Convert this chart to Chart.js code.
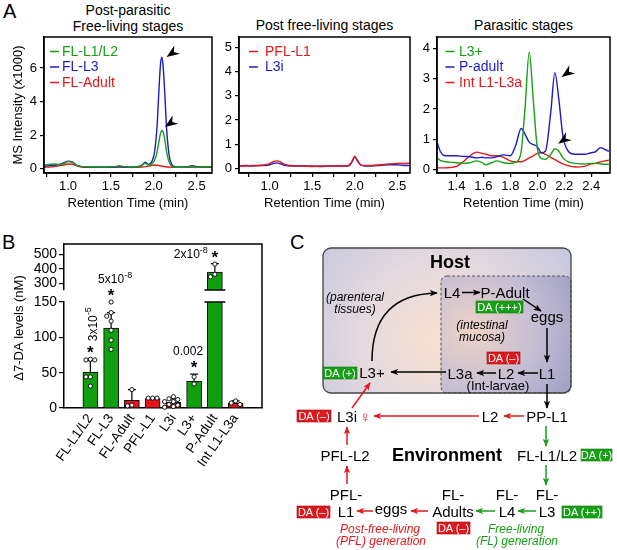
<!DOCTYPE html>
<html>
<head>
<meta charset="utf-8">
<title>Δ7-DA across life stages</title>
<script src="https://cdn.jsdelivr.net/npm/chart.js@4.4.1/dist/chart.umd.min.js"></script>
<style>
  body { margin: 0; background: #fff; }
  #fig { position: relative; width: 617px; height: 550px; overflow: hidden; font-family: 'Liberation Sans', Arial, sans-serif; color: #000; }
  #fig canvas { position: absolute; }
  .panel { position: absolute; font-size: 20px; line-height: 20px; }
  .title { position: absolute; font-size: 14px; line-height: 16px; text-align: center; }
  #diagram { position: absolute; left: 0; top: 0; }
</style>
</head>
<body>
<div id="fig">
  <div class="panel" style="left:3px; top:1px">A</div>
  <div class="panel" style="left:2px; top:232px">B</div>
  <div class="panel" style="left:290px; top:232px">C</div>
  <div class="title" style="left:44px; top:2px; width:168px">Post-parasitic<br>Free-living stages</div>
  <div class="title" style="left:239px; top:17px; width:171px">Post free-living stages</div>
  <div class="title" style="left:437px; top:17px; width:173px">Parasitic stages</div>

  <canvas id="msFree" width="217" height="215" style="left:0; top:0"></canvas>
  <canvas id="msPost" width="200" height="215" style="left:215px; top:0"></canvas>
  <canvas id="msPara" width="202" height="215" style="left:415px; top:0"></canvas>
  <canvas id="levelsLow" width="270" height="232" style="left:0; top:238px"></canvas>
  <canvas id="levelsHigh" width="270" height="60" style="left:0; top:238px"></canvas>

  <svg id="diagram" width="617" height="550" viewBox="0 0 617 550" font-family="'Liberation Sans', Arial, sans-serif" font-size="15">
    <defs>
      <radialGradient id="hostFill" gradientUnits="userSpaceOnUse" cx="440" cy="338" r="150">
        <stop offset="0" stop-color="#f7e1cf"/>
        <stop offset="0.5" stop-color="#e5dadf"/>
        <stop offset="1" stop-color="#c9c9dd"/>
      </radialGradient>
      <radialGradient id="gutFill" gradientUnits="userSpaceOnUse" cx="472" cy="330" r="120">
        <stop offset="0" stop-color="#eed3c6"/>
        <stop offset="0.55" stop-color="#c3bdd4"/>
        <stop offset="1" stop-color="#9d9dc3"/>
      </radialGradient>
      <marker id="hk" viewBox="0 0 10 8" refX="9" refY="4" markerWidth="8" markerHeight="6.4" markerUnits="userSpaceOnUse" orient="auto">
        <path d="M0,0 L10,4 L0,8 L2.5,4 z" fill="#000"/>
      </marker>
      <marker id="hr" viewBox="0 0 10 8" refX="9" refY="4" markerWidth="8" markerHeight="6.4" markerUnits="userSpaceOnUse" orient="auto">
        <path d="M0,0 L10,4 L0,8 L2.5,4 z" fill="#e3191c"/>
      </marker>
      <marker id="hg" viewBox="0 0 10 8" refX="9" refY="4" markerWidth="8" markerHeight="6.4" markerUnits="userSpaceOnUse" orient="auto">
        <path d="M0,0 L10,4 L0,8 L2.5,4 z" fill="#17a017"/>
      </marker>
    </defs>

    <!-- host compartment -->
    <rect x="323" y="248" width="248" height="145" rx="8" fill="url(#hostFill)"/>
    <rect x="441" y="276" width="130" height="117" rx="6" fill="url(#gutFill)" stroke="#555" stroke-width="1" stroke-dasharray="3 2"/>
    <rect x="323" y="248" width="248" height="145" rx="8" fill="none" stroke="#444" stroke-width="1.3"/>
    <text x="450" y="268" font-size="18" font-weight="bold" text-anchor="middle">Host</text>
    <text x="355" y="301" font-size="12" font-style="italic" text-anchor="middle">(parenteral</text>
    <text x="355" y="313" font-size="12" font-style="italic" text-anchor="middle">tissues)</text>
    <text x="482" y="329" font-size="12" font-style="italic" text-anchor="middle">(intestinal</text>
    <text x="482" y="341" font-size="12" font-style="italic" text-anchor="middle">mucosa)</text>

    <g stroke="#000" stroke-width="1.5" fill="none" marker-end="url(#hk)">
      <path d="M372,361 C372,318 392,294 437,293"/>
      <line x1="462" y1="292.5" x2="480" y2="292.5"/>
      <line x1="523" y1="299" x2="541" y2="311"/>
      <line x1="547" y1="328" x2="547" y2="362"/>
      <line x1="496" y1="373" x2="477" y2="373"/>
      <line x1="538" y1="373" x2="518" y2="373"/>
      <line x1="446" y1="372" x2="391" y2="372"/>
      <line x1="547" y1="384" x2="547" y2="408"/>
    </g>
    <g stroke="#e3191c" stroke-width="1.5" fill="none" marker-end="url(#hr)">
      <line x1="352" y1="408" x2="370" y2="383"/>
      <line x1="479" y1="416" x2="374" y2="416"/>
      <line x1="524" y1="416" x2="504" y2="416"/>
      <line x1="347" y1="445" x2="347" y2="427"/>
      <line x1="347" y1="484" x2="347" y2="466"/>
      <line x1="428" y1="511" x2="411" y2="511"/>
      <line x1="373" y1="511" x2="357" y2="511"/>
    </g>
    <g stroke="#17a017" stroke-width="1.5" fill="none" marker-end="url(#hg)">
      <line x1="546" y1="426" x2="546" y2="446"/>
      <line x1="546" y1="465" x2="546" y2="485"/>
      <line x1="536" y1="511" x2="518" y2="511"/>
      <line x1="495" y1="511" x2="476" y2="511"/>
    </g>

    <g text-anchor="middle">
      <text x="452" y="297.5">L4</text>
      <text x="505" y="297.5">P-Adult</text>
      <text x="547" y="322">eggs</text>
      <text x="460" y="378.5">L3a</text>
      <text x="506" y="378.5">L2</text>
      <text x="547" y="378.5">L1</text>
      <text x="498" y="390" font-size="13">(Int-larvae)</text>
      <text x="372" y="377.5">L3+</text>
      <text x="347" y="421.5">L3i</text>
      <text x="365" y="421.5" font-size="15" fill="#e3191c">♀</text>
      <text x="490" y="421.5">L2</text>
      <text x="547" y="421.5">PP-L1</text>
      <text x="547" y="460.5">FL-L1/L2</text>
      <text x="345" y="460.5">PFL-L2</text>
      <text x="447" y="461" font-size="18" font-weight="bold">Environment</text>
      <text x="547" y="499.5">FL-</text>
      <text x="547" y="516.5">L3</text>
      <text x="507" y="499.5">FL-</text>
      <text x="507" y="516.5">L4</text>
      <text x="453" y="499.5">FL-</text>
      <text x="453" y="516.5">Adults</text>
      <text x="391" y="514">eggs</text>
      <text x="346" y="499.5">PFL-</text>
      <text x="346" y="516.5">L1</text>
      <text x="380" y="533" font-size="12" font-style="italic" fill="#e3191c">Post-free-living</text>
      <text x="381" y="545" font-size="12" font-style="italic" fill="#e3191c">(PFL) generation</text>
      <text x="516" y="533" font-size="12" font-style="italic" fill="#17a017">Free-living</text>
      <text x="517" y="545" font-size="12" font-style="italic" fill="#17a017">(FL) generation</text>
    </g>

    <!-- DA level tags -->
    <g font-size="11" text-anchor="middle" fill="#fff">
      <rect x="476" y="301" width="47" height="12" fill="#17a017" stroke="#0d7a0d" stroke-width="0.6"/>
      <text x="499.5" y="310.8">DA (+++)</text>
      <rect x="487" y="352" width="33" height="12" fill="#dc1a1e" stroke="#a01014" stroke-width="0.6"/>
      <text x="503.5" y="361.8">DA (–)</text>
      <rect x="323" y="367" width="34" height="12" fill="#17a017" stroke="#0d7a0d" stroke-width="0.6"/>
      <text x="340" y="376.8">DA (+)</text>
      <rect x="297" y="410" width="34" height="12" fill="#dc1a1e" stroke="#a01014" stroke-width="0.6"/>
      <text x="314" y="419.8">DA (–)</text>
      <rect x="581" y="449" width="31" height="12" fill="#17a017" stroke="#0d7a0d" stroke-width="0.6"/>
      <text x="596.5" y="458.8">DA (+)</text>
      <rect x="562" y="506" width="40" height="12" fill="#17a017" stroke="#0d7a0d" stroke-width="0.6"/>
      <text x="582" y="515.8">DA (++)</text>
      <rect x="437" y="522" width="33" height="12" fill="#dc1a1e" stroke="#a01014" stroke-width="0.6"/>
      <text x="453.5" y="531.8">DA (–)</text>
      <rect x="297" y="506" width="33" height="12" fill="#dc1a1e" stroke="#a01014" stroke-width="0.6"/>
      <text x="313.5" y="515.8">DA (–)</text>
    </g>
  </svg>
</div>

<script>
const FONT = "'Liberation Sans', Arial, sans-serif";
Chart.defaults.font.family = FONT;
Chart.defaults.color = '#000';

const GREEN = '#17a017', BLUE = '#1c1cc4', RED = '#e3191c';
const BAR_GREEN = '#0f9f0f', BAR_RED = '#e4141a';

// ---- A: LC-MS traces, retention time (min) vs intensity (x1000)
const timeFree = [0.72, 0.78, 0.84, 0.90, 0.95, 1.00, 1.05, 1.10, 1.16, 1.25, 1.35, 1.45, 1.55, 1.60, 1.65, 1.72, 1.80, 1.86, 1.90, 1.94,
                  1.98, 2.01, 2.04, 2.06, 2.08, 2.095, 2.11, 2.13, 2.15, 2.18, 2.21, 2.25, 2.32, 2.40, 2.45, 2.50, 2.58, 2.68];
const flL1L2 = [0.22, 0.25, 0.28, 0.25, 0.30, 0.42, 0.38, 0.20, 0.12, 0.10, 0.10, 0.10, 0.12, 0.18, 0.12, 0.10, 0.10, 0.20, 0.32, 0.22,
                0.30, 0.50, 1.00, 1.60, 2.10, 2.27, 2.20, 1.70, 1.00, 0.40, 0.15, 0.10, 0.08, 0.10, 0.10, 0.08, 0.10, 0.10];
const flL3 = [0.15, 0.18, 0.20, 0.25, 0.35, 0.45, 0.40, 0.20, 0.12, 0.10, 0.08, 0.08, 0.10, 0.12, 0.10, 0.08, 0.10, 0.20, 0.38, 0.25,
              0.45, 1.00, 2.60, 4.60, 6.30, 6.65, 6.10, 4.40, 2.40, 0.80, 0.25, 0.12, 0.10, 0.12, 0.18, 0.12, 0.10, 0.10];
const flAdult = [0.08, 0.10, 0.12, 0.18, 0.22, 0.28, 0.26, 0.18, 0.10, 0.08, 0.08, 0.08, 0.08, 0.10, 0.08, 0.08, 0.08, 0.10, 0.12, 0.15,
                 0.20, 0.22, 0.20, 0.18, 0.16, 0.15, 0.13, 0.12, 0.10, 0.10, 0.08, 0.08, 0.08, 0.08, 0.10, 0.08, 0.08, 0.08];

const timePost = [0.64, 0.72, 0.80, 0.88, 0.95, 1.00, 1.04, 1.08, 1.12, 1.17, 1.24, 1.32, 1.40, 1.50, 1.60, 1.70, 1.80, 1.88, 1.94, 1.97,
                  2.00, 2.03, 2.07, 2.12, 2.20, 2.30, 2.40, 2.50, 2.58, 2.65];
const pflL1 = [0.10, 0.10, 0.12, 0.12, 0.15, 0.20, 0.27, 0.31, 0.28, 0.18, 0.12, 0.10, 0.10, 0.08, 0.10, 0.10, 0.10, 0.10, 0.15, 0.30,
               0.50, 0.35, 0.15, 0.12, 0.12, 0.15, 0.18, 0.20, 0.20, 0.22];
const l3i = [0.10, 0.12, 0.10, 0.12, 0.12, 0.15, 0.20, 0.23, 0.20, 0.14, 0.10, 0.10, 0.10, 0.10, 0.08, 0.10, 0.10, 0.10, 0.12, 0.28,
             0.47, 0.32, 0.15, 0.10, 0.10, 0.12, 0.15, 0.15, 0.12, 0.12];

const timePara = [1.25, 1.28, 1.31, 1.35, 1.40, 1.45, 1.50, 1.55, 1.59, 1.62, 1.66, 1.70, 1.75, 1.80, 1.84, 1.88, 1.91, 1.94, 1.97, 2.00,
                  2.03, 2.06, 2.10, 2.13, 2.16, 2.19, 2.23, 2.28, 2.35, 2.40, 2.43, 2.47, 2.50, 2.53];
const l3Plus = [0.42, 0.30, 0.26, 0.24, 0.22, 0.20, 0.22, 0.28, 0.22, 0.15, 0.22, 0.28, 0.22, 0.20, 0.24, 0.60, 2.10, 3.88, 2.30, 0.70,
                0.36, 0.33, 0.50, 0.68, 0.60, 0.38, 0.25, 0.20, 0.18, 0.20, 0.20, 0.18, 0.17, 0.17];
const pAdult = [1.00, 0.60, 0.46, 0.45, 0.45, 0.43, 0.42, 0.38, 0.40, 0.38, 0.38, 0.42, 0.48, 0.45, 0.80, 1.35, 1.15, 0.90, 0.82, 0.75,
                0.55, 0.60, 1.90, 3.20, 2.30, 1.10, 0.60, 0.50, 0.50, 0.55, 0.58, 0.72, 0.66, 0.60];
const intL1L3a = [0.05, 0.05, 0.05, 0.06, 0.10, 0.25, 0.45, 0.57, 0.53, 0.50, 0.45, 0.45, 0.40, 0.28, 0.25, 0.25, 0.30, 0.38, 0.45, 0.53,
                  0.55, 0.50, 0.40, 0.32, 0.25, 0.18, 0.12, 0.08, 0.10, 0.18, 0.20, 0.25, 0.28, 0.30];

// peak markers (arrowheads) in data units
const arrowTimeFree = [2.15, 2.13], arrowLevelFree = [6.65, 2.48];
const arrowTimePara = [2.18, 2.155], arrowLevelPara = [3.06, 0.85];

// axis ticks
const rtTicksWide = [0.75, 1.0, 1.25, 1.5, 1.75, 2.0, 2.25, 2.5];
const rtLabelsWide = ['', '1.0', '', '1.5', '', '2.0', '', '2.5'];
const rtTicksPara = [1.4, 1.6, 1.8, 2.0, 2.2, 2.4];
const rtLabelsPara = ['1.4', '1.6', '1.8', '2.0', '2.2', '2.4'];
const msTicksFree = [0, 2, 4, 6];
const msTicksPost = [0, 1, 2, 3, 4, 5];
const msTicksPara = [0, 1, 2, 3, 4];

// ---- B: Δ7-DA levels (nM)
const stages = ['FL-L1/L2', 'FL-L3', 'FL-Adult', 'PFL-L1', 'L3i', 'L3+', 'P-Adult', 'Int L1-L3a'];
const daMean = [51, 113, 11, 13.5, 8, 38, 378, 7];
const daSd = [16, 22, 15, 0.6, 5, 10, 58, 3];
const daPoints = [
  [69, 68, 68, 44, 44, 31],
  [150, 135, 130, 123, 110, 96, 83],
  [26, 4, 3],
  [14, 14, 14],
  [16, 13, 12, 9, 9, 5, 4, 2, 1],
  [44, 34],
  [432, 362, 345],
  [10, 7, 5]
];
const pValues = ['3x10^-5', '5x10^-8', null, null, null, '0.002', '2x10^-8', null];
const levelTicksLow = [0, 50, 100, 150];
const levelTicksHigh = [300, 400, 500];

const barColors = [BAR_GREEN, BAR_GREEN, BAR_RED, BAR_RED, BAR_RED, BAR_GREEN, BAR_GREEN, BAR_RED];

// ---------- plugins
const plotFrame = {
  id: 'plotFrame',
  afterDraw(chart) {
    const {ctx, chartArea: a} = chart;
    ctx.save();
    ctx.strokeStyle = '#000';
    ctx.lineWidth = 1.5;
    ctx.strokeRect(a.left, a.top, a.right - a.left, a.bottom - a.top);
    ctx.restore();
  }
};

const insideLegend = {
  id: 'insideLegend',
  afterDraw(chart, args, opts) {
    const {ctx, chartArea: a} = chart;
    ctx.save();
    ctx.font = '14px ' + FONT;
    ctx.textBaseline = 'middle';
    ctx.textAlign = 'left';
    chart.data.datasets.forEach((ds, i) => {
      const yy = a.top + 14.5 + i * 15.5;
      ctx.strokeStyle = ds.borderColor;
      ctx.lineWidth = 1.5;
      ctx.beginPath();
      ctx.moveTo(a.left + opts.dash, yy);
      ctx.lineTo(a.left + opts.dash + 9, yy);
      ctx.stroke();
      ctx.fillStyle = ds.borderColor;
      ctx.fillText(ds.label, a.left + opts.text, yy + 0.5);
    });
    ctx.restore();
  }
};

const peakArrows = {
  id: 'peakArrows',
  afterDatasetsDraw(chart, args, opts) {
    if (!opts.times) return;
    const {ctx, scales: {x, y}} = chart;
    ctx.save();
    ctx.fillStyle = '#000';
    opts.times.forEach((t, i) => {
      ctx.save();
      ctx.translate(x.getPixelForValue(t), y.getPixelForValue(opts.levels[i]));
      ctx.rotate(Math.atan2(0.7, -1));
      ctx.beginPath();
      ctx.moveTo(0, 0);
      ctx.lineTo(-13, -5);
      ctx.lineTo(-9, 0);
      ctx.lineTo(-13, 5);
      ctx.closePath();
      ctx.fill();
      ctx.restore();
    });
    ctx.restore();
  }
};

function drawStar(ctx, x, cy) {
  ctx.font = 'bold 17px ' + FONT;
  ctx.textAlign = 'center';
  ctx.textBaseline = 'alphabetic';
  const m = ctx.measureText('*');
  ctx.fillText('*', x, cy + (m.actualBoundingBoxAscent - m.actualBoundingBoxDescent) / 2);
}

// "5x10^-8" -> base text with a raised exponent
function supText(ctx, str, x, cy, align) {
  const [base, exp] = str.split('^');
  ctx.textAlign = 'left';
  ctx.textBaseline = 'alphabetic';
  ctx.font = '12px ' + FONT;
  const wb = ctx.measureText(base).width;
  ctx.font = '9px ' + FONT;
  const we = exp ? ctx.measureText(exp).width : 0;
  const left = align === 'right' ? x - wb - we : x - (wb + we) / 2;
  ctx.font = '12px ' + FONT;
  ctx.fillText(base, left, cy + 4.3);
  if (exp) {
    ctx.font = '9px ' + FONT;
    ctx.fillText(exp, left + wb, cy - 1.5);
  }
}

const barExtras = {
  id: 'barExtras',
  afterDatasetsDraw(chart, args, opts) {
    const {ctx, chartArea: a, scales: {x, y}} = chart;
    ctx.save();
    ctx.beginPath();
    ctx.rect(a.left, a.top - 4, a.right - a.left, a.bottom - a.top + 8);
    ctx.clip();
    ctx.strokeStyle = '#000';
    stages.forEach((s, i) => {
      const cx = x.getPixelForValue(i);
      const y0 = y.getPixelForValue(daMean[i]);
      const y1 = y.getPixelForValue(daMean[i] + daSd[i]);
      ctx.lineWidth = 1.2;
      ctx.beginPath();
      ctx.moveTo(cx, y0); ctx.lineTo(cx, y1);
      ctx.moveTo(cx - 4, y1); ctx.lineTo(cx + 4, y1);
      ctx.stroke();
      // individual samples, spread sideways when they would overlap
      const placed = [];
      ctx.lineWidth = 0.9;
      ctx.fillStyle = '#fff';
      daPoints[i].forEach(v => {
        const py = y.getPixelForValue(v);
        const dx = [0, -4.4, 4.4, -8.8, 8.8].find(o => placed.every(p => Math.hypot(p[0] - o, p[1] - py) > 4.3)) ?? 0;
        placed.push([dx, py]);
        ctx.beginPath();
        ctx.arc(cx + dx, py, 2.1, 0, 2 * Math.PI);
        ctx.fill();
        ctx.stroke();
      });
    });
    ctx.restore();

    // axis break marks on the tall bar, and the frame
    ctx.save();
    ctx.strokeStyle = '#000';
    ctx.lineWidth = 1.5;
    stages.forEach((s, i) => {
      const broken = opts.lower ? daMean[i] > y.max : daMean[i] > y.min;
      if (!broken) return;
      const cx = x.getPixelForValue(i);
      const yy = opts.lower ? a.top : a.bottom;
      ctx.beginPath();
      ctx.moveTo(cx - 10.5, yy); ctx.lineTo(cx + 10.5, yy);
      ctx.stroke();
    });
    ctx.beginPath();
    if (opts.lower) {
      ctx.moveTo(a.right, a.top - 12); ctx.lineTo(a.right, a.bottom);
    } else {
      ctx.moveTo(a.left, a.top); ctx.lineTo(a.right, a.top); ctx.lineTo(a.right, a.bottom);
    }
    ctx.stroke();
    ctx.restore();
  },
  afterDraw(chart, args, opts) {
    const {ctx, scales: {x, y}} = chart;
    ctx.save();
    ctx.fillStyle = '#000';
    stages.forEach((s, i) => {
      if (!pValues[i]) return;
      const top = Math.max(daMean[i] + daSd[i], ...daPoints[i]);
      if (top < y.min || top > y.max) return;
      const cx = x.getPixelForValue(i);
      const ty = y.getPixelForValue(top);
      const starY = ty - 9.5;
      drawStar(ctx, cx, starY);
      const place = opts.place[i];
      if (place === 'vertical') {
        ctx.save();
        ctx.translate(cx + 2, ty - 35);
        ctx.rotate(-Math.PI / 2);
        supText(ctx, pValues[i], 0, 0, 'center');
        ctx.restore();
      } else if (place === 'side') {
        supText(ctx, pValues[i], cx - 7, starY, 'right');
      } else {
        supText(ctx, pValues[i], cx + opts.nudge[i], ty - 23, 'center');
      }
    });
    if (opts.lower) {
      ctx.save();
      ctx.translate(19, 90);
      ctx.rotate(-Math.PI / 2);
      ctx.font = '13px ' + FONT;
      ctx.textAlign = 'center';
      ctx.textBaseline = 'middle';
      ctx.fillText('Δ7-DA levels (nM)', 0, 0);
      ctx.restore();
    }
    ctx.restore();
  }
};

// ---------- chart builders
function fixedTicks(values) {
  return scale => { scale.ticks = values.map(v => ({value: v})); };
}

const tickGrid = { display: true, drawOnChartArea: false, drawTicks: true, tickLength: 4, color: '#000', lineWidth: 1.2 };
const axisBorder = { display: true, color: '#000', width: 1.5 };

function msChart(id, cfg) {
  return new Chart(document.getElementById(id), {
    type: 'line',
    data: {
      datasets: cfg.series.map(s => ({
        label: s.label,
        data: cfg.times.map((t, i) => ({x: t, y: s.values[i]})),
        borderColor: s.color,
        borderWidth: 1.4,
        pointRadius: 0,
        cubicInterpolationMode: 'monotone',
        fill: false
      }))
    },
    options: {
      responsive: false,
      animation: false,
      layout: { padding: { top: 37, right: cfg.padRight, left: 0, bottom: 0 } },
      plugins: {
        legend: { display: false },
        tooltip: { enabled: false },
        insideLegend: cfg.legend,
        peakArrows: cfg.arrows || {}
      },
      scales: {
        x: {
          type: 'linear', min: cfg.xMin, max: cfg.xMax,
          afterBuildTicks: fixedTicks(cfg.xTicks),
          afterFit: s => { s.height = 42; s.paddingLeft = 0; s.paddingRight = 0; },
          ticks: { autoSkip: false, maxRotation: 0, font: { size: 13 }, padding: 2, callback: (v, i) => cfg.xLabels[i] },
          grid: tickGrid,
          border: axisBorder,
          title: { display: true, text: 'Retention Time (min)', font: { size: 13 }, padding: { top: 0, bottom: 4 } }
        },
        y: {
          type: 'linear', min: cfg.yMin, max: cfg.yMax,
          afterBuildTicks: fixedTicks(cfg.yTicks),
          afterFit: s => { s.width = cfg.yWidth; s.paddingTop = 0; s.paddingBottom = 0; },
          ticks: { autoSkip: false, font: { size: 13 }, padding: 3 },
          grid: tickGrid,
          border: axisBorder,
          title: cfg.yTitle
            ? { display: true, text: cfg.yTitle, font: { size: 13 }, padding: { top: 11, bottom: 0 } }
            : { display: false }
        }
      }
    },
    plugins: [plotFrame, insideLegend, peakArrows]
  });
}

msChart('msFree', {
  times: timeFree,
  series: [
    { label: 'FL-L1/L2', values: flL1L2, color: GREEN },
    { label: 'FL-L3', values: flL3, color: BLUE },
    { label: 'FL-Adult', values: flAdult, color: RED }
  ],
  xMin: 0.72, xMax: 2.68, xTicks: rtTicksWide, xLabels: rtLabelsWide,
  yMin: -0.26, yMax: 7.85, yTicks: msTicksFree,
  yWidth: 44, padRight: 5, yTitle: 'MS Intensity (x1000)',
  legend: { dash: 6, text: 18 },
  arrows: { times: arrowTimeFree, levels: arrowLevelFree }
});

msChart('msPost', {
  times: timePost,
  series: [
    { label: 'PFL-L1', values: pflL1, color: RED },
    { label: 'L3i', values: l3i, color: BLUE }
  ],
  xMin: 0.64, xMax: 2.65, xTicks: rtTicksWide, xLabels: rtLabelsWide,
  yMin: -0.19, yMax: 5.43, yTicks: msTicksPost,
  yWidth: 24, padRight: 5,
  legend: { dash: 10, text: 26 }
});

msChart('msPara', {
  times: timePara,
  series: [
    { label: 'L3+', values: l3Plus, color: GREEN },
    { label: 'P-adult', values: pAdult, color: BLUE },
    { label: 'Int L1-L3a', values: intL1L3a, color: RED }
  ],
  xMin: 1.256, xMax: 2.539, xTicks: rtTicksPara, xLabels: rtLabelsPara,
  yMin: -0.12, yMax: 4.38, yTicks: msTicksPara,
  yWidth: 22, padRight: 7,
  legend: { dash: 8.5, text: 22 },
  arrows: { times: arrowTimePara, levels: arrowLevelPara }
});

function levelChart(id, lower) {
  return new Chart(document.getElementById(id), {
    type: 'bar',
    data: {
      datasets: [{
        data: daMean.map((v, i) => ({x: i, y: v})),
        backgroundColor: barColors,
        borderColor: '#000',
        borderWidth: 1,
        borderSkipped: 'start',
        barThickness: 15,
        clip: 0
      }]
    },
    options: {
      responsive: false,
      animation: false,
      layout: { padding: lower ? { top: 64, right: 8, left: 0, bottom: 0 } : { top: 6, right: 8, left: 0, bottom: 8 } },
      plugins: {
        legend: { display: false },
        tooltip: { enabled: false },
        barExtras: {
          lower,
          place: ['vertical', 'above', '', '', '', 'above', 'side', ''],
          nudge: [0, 4, 0, 0, 0, -6, 0, 0]
        }
      },
      scales: {
        x: {
          type: 'linear', display: lower, min: -0.675, max: 7.675,
          afterBuildTicks: fixedTicks(stages.map((s, i) => i)),
          afterFit: s => { s.height = lower ? 62 : 0; s.paddingLeft = 0; s.paddingRight = 0; },
          ticks: { autoSkip: false, minRotation: 55, maxRotation: 55, font: { size: 13.5 }, padding: 3, callback: (v, i) => stages[i] },
          grid: { display: false, drawTicks: false },
          border: axisBorder
        },
        y: {
          type: 'linear', min: lower ? 0 : 254, max: lower ? 150 : 571,
          afterBuildTicks: fixedTicks(lower ? levelTicksLow : levelTicksHigh),
          afterFit: s => { s.width = 64; s.paddingTop = 0; s.paddingBottom = 0; },
          ticks: { autoSkip: false, font: { size: 14 }, padding: 2 },
          grid: { display: true, drawOnChartArea: false, drawTicks: true, tickLength: 5, color: '#000', lineWidth: 1.2 },
          border: axisBorder
        }
      }
    },
    plugins: [barExtras]
  });
}

levelChart('levelsLow', true);
levelChart('levelsHigh', false);
</script>
</body>
</html>
